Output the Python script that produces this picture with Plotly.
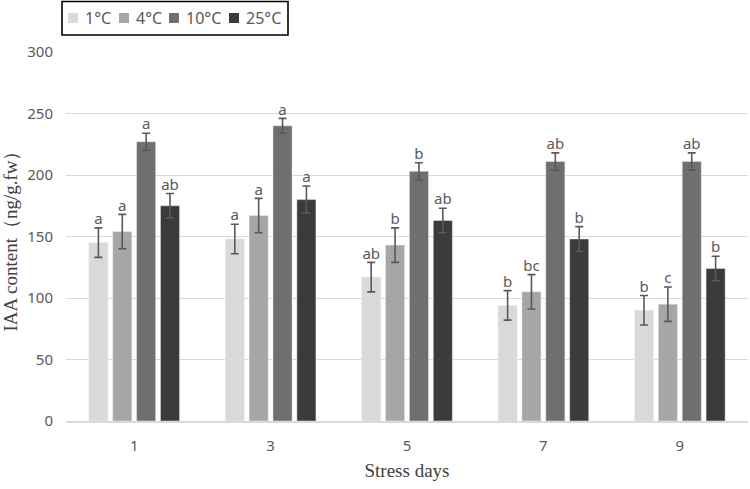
import plotly.graph_objects as go

days = ["1", "3", "5", "7", "9"]
series_names = ["1°C", "4°C", "10°C", "25°C"]
values = [
    [145, 148, 117, 94, 90],
    [154, 167, 143, 105, 95],
    [227, 240, 203, 211, 211],
    [175, 180, 163, 148, 124],
]
errors = [
    [12, 12, 12, 12, 12],
    [14, 14, 14, 14, 14],
    [7, 6, 7, 7, 7],
    [10, 11, 10, 10, 10],
]
letters = [
    ["a", "a", "ab", "b", "b"],
    ["a", "a", "b", "bc", "c"],
    ["a", "a", "b", "ab", "ab"],
    ["ab", "a", "ab", "b", "b"],
]
colors = ["#d9d9d9", "#a6a6a6", "#6f6f6f", "#3b3b3b"]

W, H = 750, 489
ML, MR, MT, MB = 66, 2, 52, 68
PW, PH = W - ML - MR, H - MT - MB


def px_x(px):
    return (px - ML) / PW


def px_y(py):
    return (H - MB - py) / PH


fig = go.Figure()
for i, name in enumerate(series_names):
    fig.add_trace(go.Bar(
        x=days, y=values[i], name=name, marker_color=colors[i],
        offsetgroup=str(i), showlegend=False,
        error_y=dict(type="data", array=errors[i], color="#595959", thickness=1.6, width=4),
    ))
for i, name in enumerate(series_names):
    fig.add_trace(go.Scatter(
        x=days, y=[v + e for v, e in zip(values[i], errors[i])],
        mode="text", text=letters[i], textposition="top center",
        textfont=dict(family="Noto Sans", size=15, color="#595959"),
        offsetgroup=str(i), showlegend=False, hoverinfo="skip",
    ))

# custom legend box (drawn to match the reference layout)
shapes = [dict(type="rect", xref="paper", yref="paper",
               x0=px_x(62), x1=px_x(288), y0=px_y(35), y1=px_y(1.5),
               line=dict(color="black", width=1.6), fillcolor="white")]
annotations = []
sq_left = [68, 119, 169, 229]
for i, name in enumerate(series_names):
    shapes.append(dict(type="rect", xref="paper", yref="paper",
                       x0=px_x(sq_left[i]), x1=px_x(sq_left[i] + 10),
                       y0=px_y(23), y1=px_y(13),
                       line=dict(width=0), fillcolor=colors[i]))
    annotations.append(dict(xref="paper", yref="paper", x=px_x(sq_left[i] + 15), y=px_y(18),
                            xanchor="left", yanchor="middle", showarrow=False,
                            text=name, font=dict(family="Noto Sans", size=16, color="#595959")))

fig.update_layout(
    width=W, height=H,
    margin=dict(l=ML, r=MR, t=MT, b=MB),
    paper_bgcolor="white", plot_bgcolor="white",
    barmode="group", bargap=0.3, bargroupgap=0.2,
    scattermode="group", scattergap=0.3,
    showlegend=False,
    shapes=shapes, annotations=annotations,
    xaxis=dict(
        type="category", showgrid=False, showline=True, linecolor="#d9d9d9", linewidth=1.5,
        ticks="", automargin=False, ticklabelstandoff=10,
        tickfont=dict(family="Noto Sans", size=15, color="#595959"),
        title=dict(text="Stress days", font=dict(family="Liberation Serif", size=19, color="#404040"), standoff=10),
    ),
    yaxis=dict(
        range=[0, 300], dtick=50, showgrid=True, gridcolor="#d9d9d9", gridwidth=1.2,
        zeroline=False, ticks="", automargin=False, ticklabelstandoff=12,
        tickfont=dict(family="Noto Sans", size=15, color="#595959"),
        title=dict(text="IAA content（ng/g.fw）", font=dict(family="Liberation Serif", size=19, color="#404040"), standoff=10),
    ),
)
fig.write_html("out.html", post_script="document.body.style.margin='0';",
               config={"displayModeBar": False})
